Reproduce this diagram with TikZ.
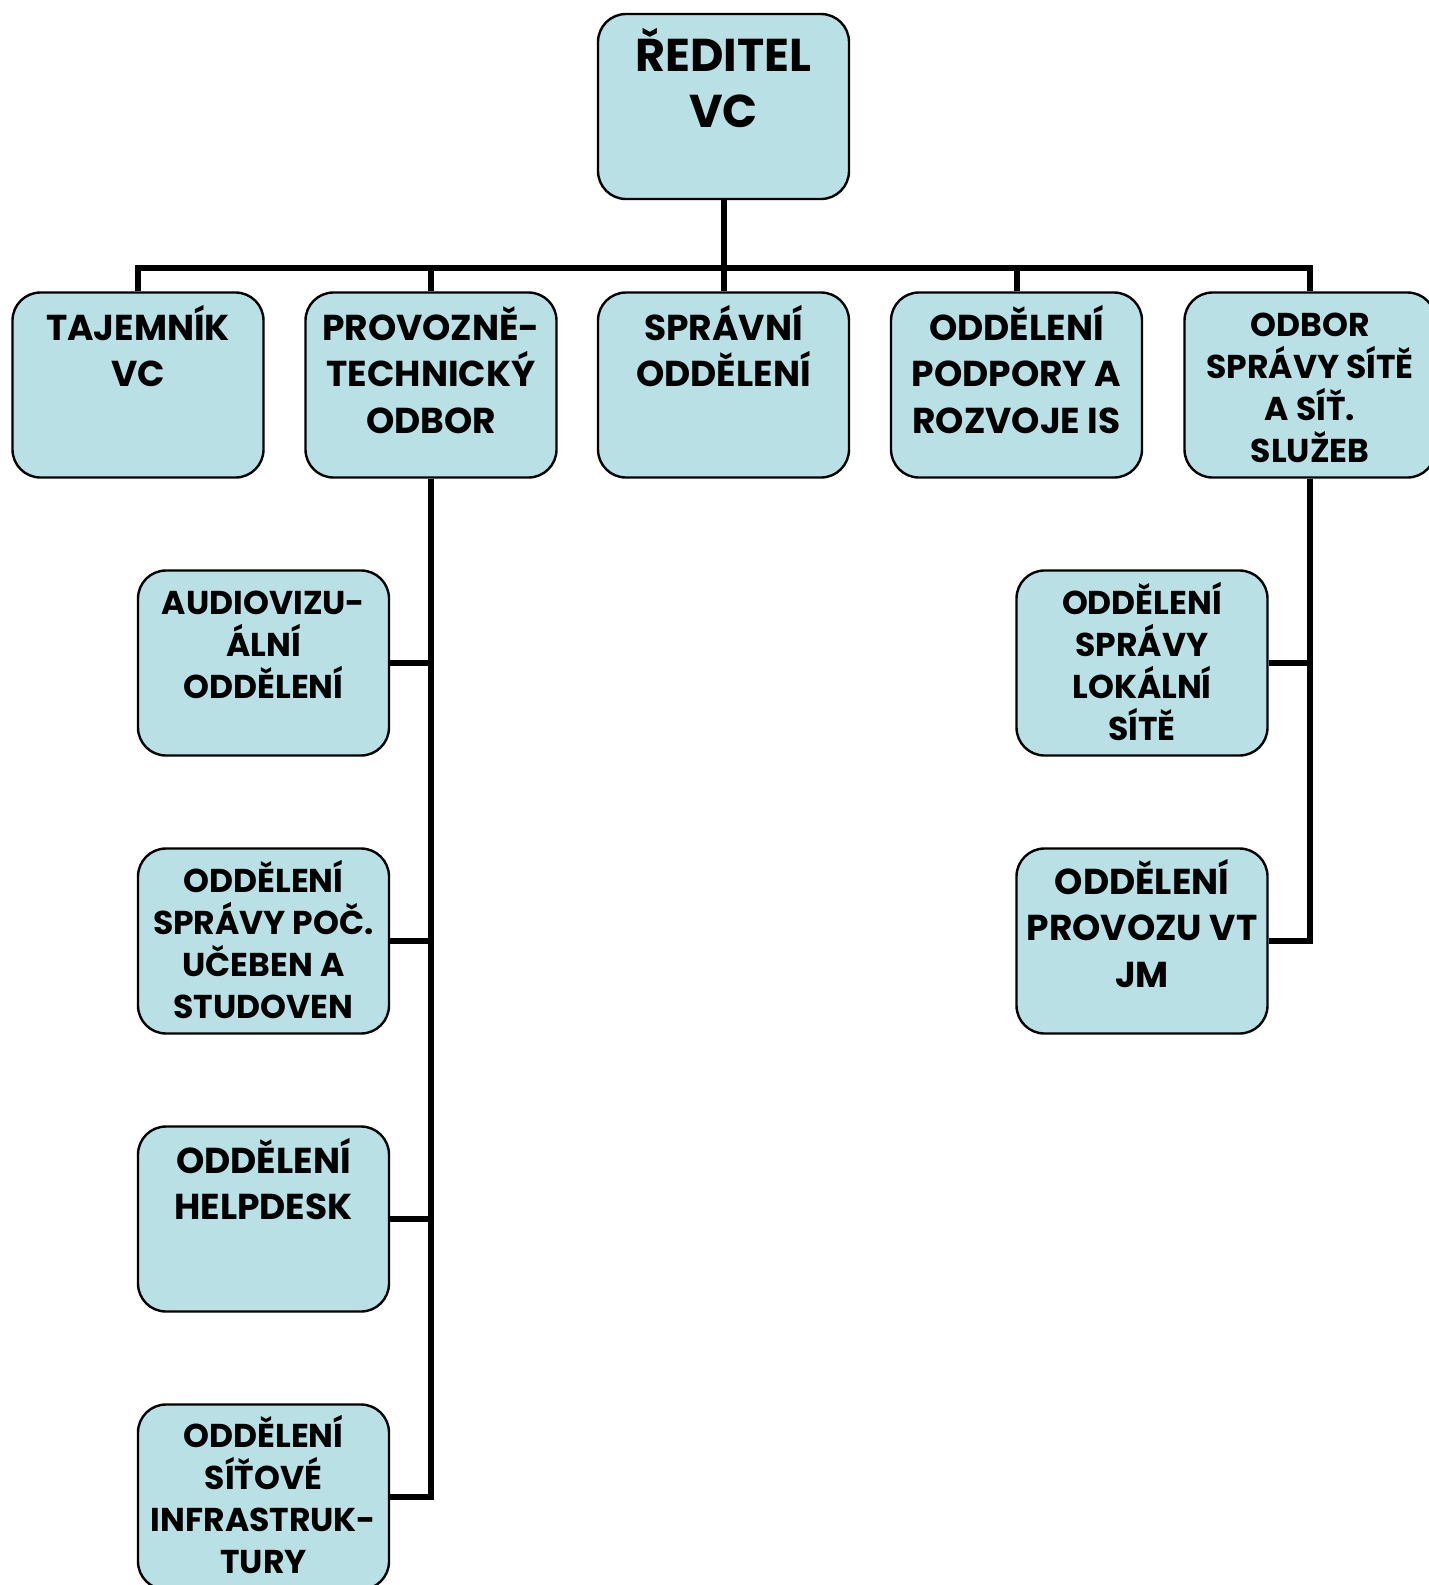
\documentclass[tikz,border=0pt]{standalone}
\usepackage{fontspec}
\setmainfont{Poppins}
\usetikzlibrary{calc}
\definecolor{boxfill}{RGB}{185,224,228}
\newcommand\ltxt[1]{\parbox[t]{140pt}{\centering #1}}
\begin{document}
\begin{tikzpicture}[x=0.5pt,y=-0.5pt,
  box/.style={draw=black, line width=1.2pt, fill=boxfill, rounded corners=14pt,
    minimum width=125.5pt, minimum height=92.5pt, inner sep=0pt},
  tA/.style={anchor=base, inner sep=0pt, font=\bfseries\fontsize{23}{27.8}\selectfont},
  tB/.style={anchor=base, inner sep=0pt, font=\bfseries\fontsize{18}{23.25}\selectfont},
  tC/.style={anchor=base, inner sep=0pt, font=\bfseries\fontsize{16.5}{21}\selectfont},
  conn/.style={line width=3pt}]
\useasboundingbox (0,0) rectangle (1429,1585);

% boxes
\node[box] (dir) at (723.5,106.5) {};
\node[box] (taj) at (138,385) {};
\node[box] (pto) at (431,385) {};
\node[box] (spr) at (723.5,385) {};
\node[box] (pis) at (1016.5,385) {};
\node[box] (oss) at (1310,385) {};
\node[box] (avo) at (263.5,663) {};
\node[box] (osu) at (263.5,941) {};
\node[box] (ohd) at (263.5,1219) {};
\node[box] (osi) at (263.5,1497) {};
\node[box] (osl) at (1142,663) {};
\node[box] (opv) at (1142,941) {};

% connectors
\coordinate (bus) at (723.5,268);
\draw[conn] (dir.south) -- (bus);
\draw[conn] (taj.north) -- (taj.north |- bus) -- (oss.north |- bus) -- (oss.north);
\draw[conn] (pto.north) -- (pto.north |- bus);
\draw[conn] (spr.north) -- (spr.north |- bus);
\draw[conn] (pis.north) -- (pis.north |- bus);
\draw[conn] (pto.south) |- (osi.east);
\draw[conn] (avo.east) -- (avo.east -| pto.south);
\draw[conn] (osu.east) -- (osu.east -| pto.south);
\draw[conn] (ohd.east) -- (ohd.east -| pto.south);
\draw[conn] (oss.south) |- (opv.east);
\draw[conn] (osl.east) -- (osl.east -| oss.south);

% texts
\node[tA] (dir-t) at ($(dir.north)+(0,59)$) {\ltxt{ŘEDITEL\\VC}};
\node[tB] (taj-t) at ($(taj.north)+(0,49)$) {\ltxt{TAJEMNÍK\\VC}};
\node[tB] (pto-t) at ($(pto.north)+(0,49)$) {\ltxt{PROVOZNĚ-\\TECHNICKÝ\\ODBOR}};
\node[tB] (spr-t) at ($(spr.north)+(0,49)$) {\ltxt{SPRÁVNÍ\\ODDĚLENÍ}};
\node[tB] (pis-t) at ($(pis.north)+(0,49)$) {\ltxt{ODDĚLENÍ\\PODPORY A\\ROZVOJE IS}};
\node[tC] (oss-t) at ($(oss.north)+(0,45)$) {\ltxt{ODBOR\\SPRÁVY SÍTĚ\\A SÍŤ.\\SLUŽEB}};
\node[tC] (avo-t) at ($(avo.north)+(0,45)$) {\ltxt{AUDIOVIZU-\\ÁLNÍ\\ODDĚLENÍ}};
\node[tC] (osu-t) at ($(osu.north)+(0,45)$) {\ltxt{ODDĚLENÍ\\SPRÁVY POČ.\\UČEBEN A\\STUDOVEN}};
\node[tB] (ohd-t) at ($(ohd.north)+(0,48)$) {\ltxt{ODDĚLENÍ\\HELPDESK}};
\node[tC] (osi-t) at ($(osi.north)+(0,44)$) {\ltxt{ODDĚLENÍ\\SÍŤOVÉ\\INFRASTRUK-\\TURY}};
\node[tC] (osl-t) at ($(osl.north)+(0,45)$) {\ltxt{ODDĚLENÍ\\SPRÁVY\\LOKÁLNÍ\\SÍTĚ}};
\node[tB] (opv-t) at ($(opv.north)+(0,47)$) {\ltxt{ODDĚLENÍ\\PROVOZU VT\\JM}};
\end{tikzpicture}
\end{document}
